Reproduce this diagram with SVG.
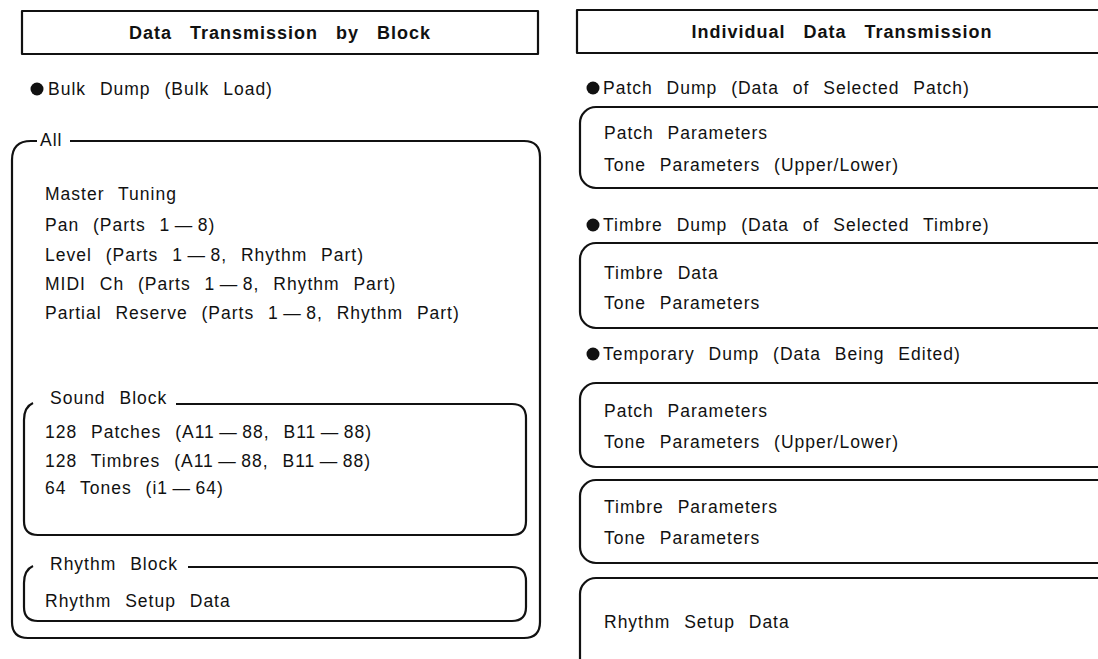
<svg xmlns="http://www.w3.org/2000/svg" width="1098" height="659" viewBox="0 0 1098 659">
<style>
.t{font-family:"Liberation Sans",Arial,sans-serif;font-size:17.5px;fill:#111;letter-spacing:1px;word-spacing:8px}
.h{font-family:"Liberation Sans",Arial,sans-serif;font-size:18px;font-weight:bold;fill:#111;letter-spacing:1px;word-spacing:12px}
.b{fill:none;stroke:#111;stroke-width:2.2;stroke-linejoin:round}
.dot{fill:#111}
</style>
<rect width="1098" height="659" fill="#fff"/>
<g id="header-left">
<rect class="b" x="22" y="11" width="516" height="43"/>
<text class="h" x="280" y="39" text-anchor="middle">Data Transmission by Block</text>
</g>
<g id="header-right">
<rect class="b" x="577" y="10" width="540" height="43"/>
<text class="h" x="842" y="38" text-anchor="middle">Individual Data Transmission</text>
</g>
<g id="bulk-dump">
<circle class="dot" cx="37" cy="89" r="6.5"/>
<text class="t" x="48" y="95">Bulk Dump (Bulk Load)</text>
</g>
<g id="all-block">
<path class="b" d="M70 141 H524 Q540 141 540 157 V622 Q540 638 524 638 H28 Q12 638 12 622 V160 Q12 141 31 141 H37"/>
<text class="t" x="40" y="146">All</text>
<text class="t" x="45" y="200">Master Tuning</text>
<text class="t" x="45" y="231">Pan (Parts 1&#8201;—&#8201;8)</text>
<text class="t" x="45" y="261">Level (Parts 1&#8201;—&#8201;8, Rhythm Part)</text>
<text class="t" x="45" y="290">MIDI Ch (Parts 1&#8201;—&#8201;8, Rhythm Part)</text>
<text class="t" x="45" y="319">Partial Reserve (Parts 1&#8201;—&#8201;8, Rhythm Part)</text>
</g>
<g id="sound-block">
<path class="b" d="M176 404 H512 Q526 404 526 418 V521 Q526 535 512 535 H38 Q24 535 24 521 V420 Q24 407 33 403"/>
<text class="t" x="50" y="404">Sound Block</text>
<text class="t" x="45" y="438">128 Patches (A11&#8201;—&#8201;88, B11&#8201;—&#8201;88)</text>
<text class="t" x="45" y="467">128 Timbres (A11&#8201;—&#8201;88, B11&#8201;—&#8201;88)</text>
<text class="t" x="45" y="494">64 Tones (i1&#8201;—&#8201;64)</text>
</g>
<g id="rhythm-block">
<path class="b" d="M188 567 H512 Q526 567 526 581 V607 Q526 621 512 621 H38 Q24 621 24 607 V583 Q24 570 33 566"/>
<text class="t" x="50" y="570">Rhythm Block</text>
<text class="t" x="45" y="607">Rhythm Setup Data</text>
</g>
<g id="patch-dump">
<circle class="dot" cx="593" cy="88" r="6.5"/>
<text class="t" x="603" y="94">Patch Dump (Data of Selected Patch)</text>
<rect class="b" x="580" y="107" width="560" height="81" rx="16"/>
<text class="t" x="604" y="139">Patch Parameters</text>
<text class="t" x="604" y="171">Tone Parameters (Upper/Lower)</text>
</g>
<g id="timbre-dump">
<circle class="dot" cx="593" cy="225" r="6.5"/>
<text class="t" x="603" y="231">Timbre Dump (Data of Selected Timbre)</text>
<rect class="b" x="580" y="243" width="560" height="85" rx="16"/>
<text class="t" x="604" y="279">Timbre Data</text>
<text class="t" x="604" y="309">Tone Parameters</text>
</g>
<g id="temporary-dump">
<circle class="dot" cx="593" cy="354" r="6.5"/>
<text class="t" x="603" y="360">Temporary Dump (Data Being Edited)</text>
<rect class="b" x="580" y="383" width="560" height="84" rx="16"/>
<text class="t" x="604" y="417">Patch Parameters</text>
<text class="t" x="604" y="448">Tone Parameters (Upper/Lower)</text>
<rect class="b" x="580" y="480" width="560" height="83" rx="16"/>
<text class="t" x="604" y="513">Timbre Parameters</text>
<text class="t" x="604" y="544">Tone Parameters</text>
<rect class="b" x="580" y="578" width="560" height="120" rx="16"/>
<text class="t" x="604" y="628">Rhythm Setup Data</text>
</g>
<g id="connectors"/>
</svg>
